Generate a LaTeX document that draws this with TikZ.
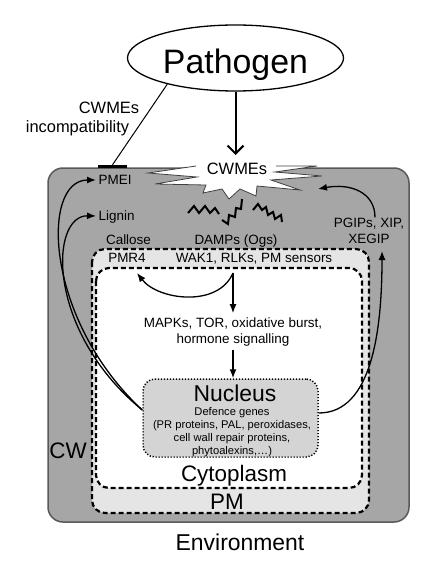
\documentclass[tikz,border=0pt]{standalone}
\usepackage{fontspec}
\setmainfont{Liberation Sans}
\usetikzlibrary{arrows.meta,shapes.geometric}
\definecolor{cwgray}{gray}{0.65}
\definecolor{cwedge}{gray}{0.35}
\definecolor{pmgray}{gray}{0.9}
\definecolor{nucgray}{gray}{0.83}
\begin{document}
\begin{tikzpicture}[x = 1bp, y = -1bp,
    lbl/.style = {font=\fontsize{13.5}{16}\selectfont, text height=9.7bp, text depth=0bp, inner xsep=1.5bp, inner ysep=0bp},
    lines/.style = {font=\fontsize{13.5}{16}\selectfont, align=center, inner sep=0bp},
    mid/.style = {font=\fontsize{16.5}{19}\selectfont, text height=11.9bp, text depth=0bp, inner sep=0bp},
    big/.style = {font=\fontsize{22.5}{26}\selectfont, text height=16.2bp, text depth=0bp, inner sep=0bp},
    dashbox/.style = {line width=2.2bp, dash pattern=on 5bp off 3bp, rounded corners=13bp},
    link/.style = {-{Latex[length=9bp,width=7bp]}, line width=1.3bp}]

   \useasboundingbox (0,0) rectangle (435,575);

   \draw [draw=cwedge, fill=cwgray, line width=1.5bp, rounded corners=15bp] (48,168) rectangle (409,522);

   \node (pathogen) at (235.5,58) [ellipse, draw, line width=1.3bp, minimum width=216bp, minimum height=66bp, inner sep=0bp,
      font=\fontsize{34}{40}\selectfont, text height=30.5bp, text depth=0bp] {Pathogen};

   \draw [fill=white, draw=black!75, line width=0.8bp] (196,166) -- (148,173) -- (197,177) -- (155,184) -- (206,185)
      -- (203,193) -- (222,189) -- (229,199) -- (240,189) -- (256,196) -- (257,186) -- (300,190) -- (271,180)
      -- (322,176) -- (275,172) -- (317,166) -- (276,166);
   \node (cwmes) at (237,169) [mid] {CWMEs};

   \draw [line width=2bp] (188,213) -- (194,206) -- (199,213) -- (205,206) -- (210,213) -- (215,208) -- (219,214);
   \draw [line width=2bp] (222,220) -- (228,224) -- (229,215) -- (235,217) -- (236,208) -- (241,209) -- (242,199);
   \draw [line width=2bp] (253,210) -- (258,204) -- (262,210) -- (266,207) -- (268,215) -- (273,212) -- (275,219) -- (281,215) -- (282,222);

   \draw [dashbox, fill=pmgray] (92,249) rectangle (369,513);
   \draw [dashbox, fill=white] (96,268) rectangle (362,488);
   \node (nucleus) at (230.5,418) [draw, fill=nucgray, line width=1.5bp, dash pattern=on 1.2bp off 1.8bp,
      rounded corners=12bp, minimum width=175bp, minimum height=78bp] {};

   \node (pmeibar) at (112.5,166.5) [fill=black, minimum width=29bp, minimum height=3bp, inner sep=0bp] {};
   \node (incompa) at (109,108) [mid] {CWMEs};
   \node (incompb) at (77.5,127) [mid] {incompatibility};

   \node (pmei) at (97,180) [lbl, anchor=west] {PMEI};
   \node (lignin) at (97,216) [lbl, anchor=west] {Lignin};
   \node (callose) at (128.5,240) [lbl] {Callose};
   \node (damps) at (236,240) [lbl] {DAMPs (Ogs)};
   \node (pmr) at (127,258) [lbl] {PMR4};
   \node (wak) at (254,258) [lbl] {WAK1, RLKs, PM sensors};
   \node (pgips) at (369,243) [lines, anchor=base] {PGIPs, XIP,\\XEGIP};
   \node (mapk) at (233,343) [lines, anchor=base, inner ysep=4bp] {MAPKs, TOR, oxidative burst,\\hormone signalling};

   \node (nuctitle) at (235,393.5) [big, font=\fontsize{23}{26}\selectfont] {Nucleus};
   \node (genes) at (232,454) [anchor=base, align=center, inner sep=0bp, font=\fontsize{11.2}{13}\selectfont]
      {Defence genes\\(PR proteins, PAL, peroxidases,\\cell wall repair proteins,\\phytoalexins,\dots)};
   \node (cytoplasm) at (234,473.5) [big] {Cytoplasm};
   \node (pm) at (227,501.5) [big] {PM};
   \node (cw) at (68,450) [big] {CW};
   \node (environment) at (240,542) [big, font=\fontsize{23}{26}\selectfont] {Environment};

   \coordinate (hit) at (235.5,155);
   \coordinate (starin) at (318,189);
   \coordinate (pgipsin) at (382,251);
   \coordinate (wakout) at (233,273);
   \coordinate (pmrin) at (137,273);

   \draw [line width=1bp] (pathogen.201) -- (pmeibar.north);
   \draw [-{Straight Barb[length=8bp,width=16bp]}, line width=2bp] (pathogen.south) -- (hit);

   \draw [link] ([yshift=8bp]nucleus.west) .. controls (45,320) and (40,180) .. ([xshift=-1bp]pmei.west);
   \draw [link] ([yshift=8bp]nucleus.west) .. controls (45,330) and (50,215) .. ([xshift=-1bp]lignin.west);
   \draw [link] ([yshift=5bp]nucleus.east) .. controls (372,413) and (382,330) .. (pgipsin);
   \draw [link] ([xshift=6bp]pgips.north) .. controls (375,192) and (350,183) .. (starin);
   \draw [link] (wakout) -- (wakout |- mapk.north);
   \draw [link] (wakout) .. controls (218,308) and (158,300) .. (pmrin);
   \draw [link] (mapk.south) -- (mapk.south |- nucleus.north);

\end{tikzpicture}
\end{document}
